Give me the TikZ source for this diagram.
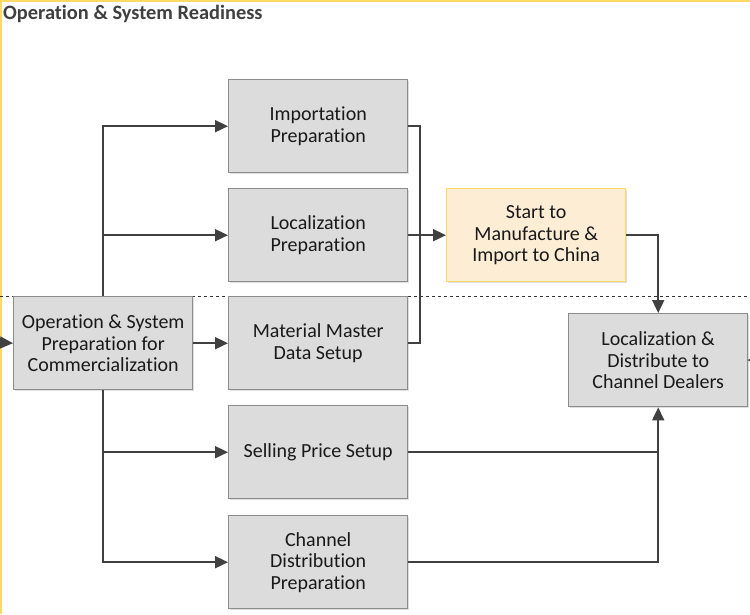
\documentclass[tikz,border=0pt]{standalone}
\usepackage{fontspec}
\setmainfont{Carlito}[Ligatures={NoCommon}]
\usetikzlibrary{arrows.meta,shadows}
\definecolor{boxfill}{HTML}{DCDCDC}
\definecolor{boxline}{HTML}{8C8C8C}
\definecolor{yfill}{HTML}{FDEDD5}
\definecolor{yline}{HTML}{FFD966}
\definecolor{conn}{HTML}{404040}
\definecolor{titlec}{HTML}{404040}
\tikzset{
  graybox/.style={draw=boxline, line width=1.4pt, fill=boxfill, minimum width=179pt, minimum height=93pt, anchor=north west, align=center, font=\fontsize{20}{21.5}\selectfont, text=black!90, inner sep=0pt, drop shadow={shadow xshift=1.5pt, shadow yshift=-1.5pt, opacity=0.25}},
  yellowbox/.style={graybox, draw=yline, fill=yfill},
  conline/.style={draw=conn, line width=1.8pt},
  arr/.style={conline, -{Triangle[length=13pt,width=12pt]}},
}
\begin{document}
\begin{tikzpicture}[x=1pt,y=-1pt]
\useasboundingbox (0,0) rectangle (750,614);
\fill[white] (0,0) rectangle (750,614);
\fill[yline] (0,0) rectangle (750,2);
\fill[yline] (0,0) rectangle (1.5,614);
\node[anchor=west, font=\bfseries\fontsize{20.4}{24}\selectfont, text=titlec, inner sep=0pt] (title) at (3,14) {Operation \& System Readiness};
\draw[dashed, line width=0.7pt, black!80] (0,296) -- (750,296);
\node[graybox] (imp) at (228,79) {Importation\\Preparation};
\node[graybox] (locp) at (228,188) {Localization\\Preparation};
\node[graybox] (mat) at (228,296) {Material Master\\Data Setup};
\node[graybox] (sell) at (228,405) {Selling Price Setup};
\node[graybox] (chan) at (228,515) {Channel\\Distribution\\Preparation};
\node[graybox] (op) at (13,296) {Operation \& System\\Preparation for\\Commercialization};
\node[yellowbox] (start) at (446,188) {Start to\\Manufacture \&\\Import to China};
\node[graybox] (ld) at (568,313) {Localization \&\\Distribute to\\Channel Dealers};
\coordinate (inL) at (0,342.5);
\coordinate (outR) at (750,360);
% entry and exit
\draw[arr] (inL) -- (op.west);
\draw[conline] (ld.east) -- (outR);
% from op upward
\draw[arr] (op.north) |- (imp.west);
\draw[arr] (op.north) |- (locp.west);
\draw[arr] (op.east) -- (op.east -| mat.west);
\draw[arr] (op.south) |- (sell.west);
\draw[arr] (op.south) |- (chan.west);
% merge to start
\coordinate (mx) at (420,0);
\draw[conline] (imp.east) -| (mx |- mat.east) -- (mat.east);
\draw[arr] (locp.east) -- (start.west);
% start to ld
\draw[arr] (start.east) -| (ld.north);
\draw[arr] (sell.east) -| (ld.south);
\draw[conline] (chan.east) -| ([yshift=-20pt]ld.south);
\end{tikzpicture}
\end{document}
